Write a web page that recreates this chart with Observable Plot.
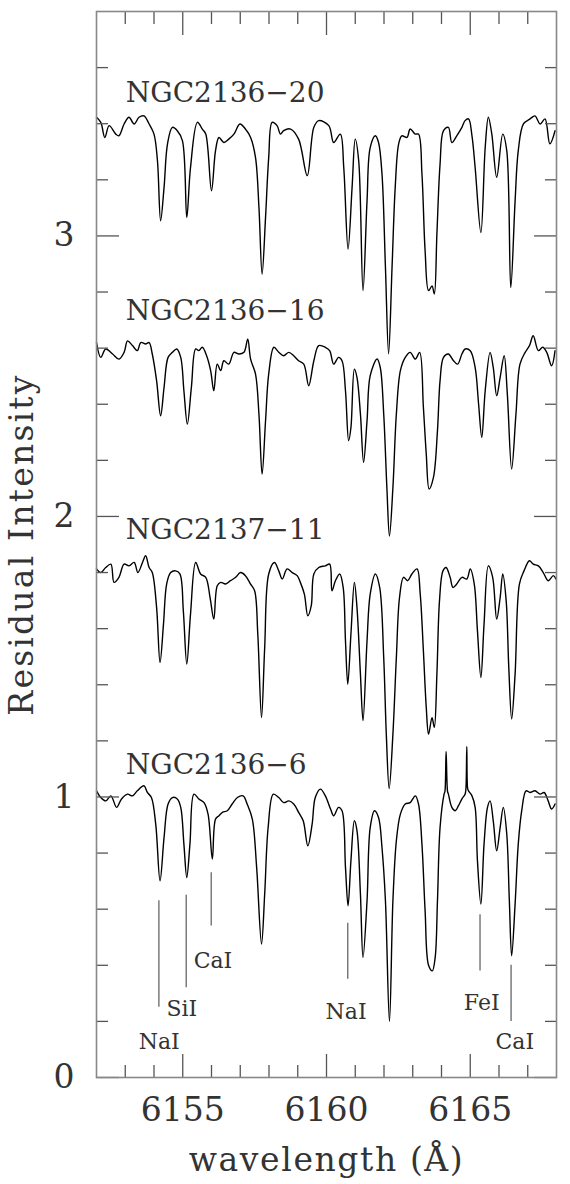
<!DOCTYPE html>
<html><head><meta charset="utf-8">
<script src="https://cdn.jsdelivr.net/npm/d3@7"></script>
<script src="https://cdn.jsdelivr.net/npm/@observablehq/plot@0.6"></script>
<style>
html,body{margin:0;padding:0;background:#fff;} svg{display:block;}
</style>
</head><body><div id="chart"></div>
<script>
// ---- data ----
const starNames = ["NGC2136−20", "NGC2136−16", "NGC2137−11", "NGC2136−6"];
const starLabelY = [3.476, 2.70, 1.92, 1.083];
const starLabelX = 6153.02;

const specN20 = [[6152.00,3.423],[6152.15,3.405],[6152.29,3.351],[6152.44,3.393],[6152.67,3.363],[6152.78,3.357],[6152.96,3.399],[6153.13,3.423],[6153.31,3.399],[6153.48,3.423],[6153.65,3.428],[6153.83,3.399],[6154.00,3.363],[6154.12,3.268],[6154.23,3.054],[6154.35,3.173],[6154.47,3.328],[6154.64,3.387],[6154.81,3.375],[6154.99,3.339],[6155.14,3.066],[6155.27,3.244],[6155.51,3.405],[6155.68,3.381],[6155.80,3.363],[6156.00,3.161],[6156.14,3.304],[6156.26,3.351],[6156.43,3.333],[6156.60,3.345],[6156.78,3.363],[6156.99,3.399],[6157.18,3.381],[6157.36,3.351],[6157.53,3.280],[6157.65,3.102],[6157.76,2.864],[6157.88,3.066],[6157.99,3.280],[6158.11,3.405],[6158.28,3.393],[6158.40,3.363],[6158.51,3.375],[6158.75,3.381],[6159.03,3.345],[6159.33,3.215],[6159.56,3.387],[6159.73,3.411],[6160.08,3.393],[6160.25,3.333],[6160.48,3.363],[6160.60,3.244],[6160.75,2.953],[6160.89,3.173],[6161.00,3.345],[6161.12,3.268],[6161.27,2.805],[6161.41,3.125],[6161.52,3.315],[6161.70,3.357],[6161.81,3.333],[6161.93,3.221],[6162.05,2.888],[6162.16,2.58],[6162.28,2.888],[6162.39,3.173],[6162.51,3.328],[6162.62,3.357],[6162.80,3.351],[6162.91,3.381],[6163.09,3.363],[6163.20,3.363],[6163.32,3.221],[6163.43,2.947],[6163.55,2.805],[6163.67,2.822],[6163.75,2.793],[6163.84,3.007],[6163.95,3.256],[6164.07,3.375],[6164.24,3.387],[6164.36,3.333],[6164.53,3.357],[6164.71,3.387],[6164.82,3.411],[6164.94,3.417],[6165.06,3.357],[6165.17,3.244],[6165.37,3.012],[6165.52,3.315],[6165.63,3.423],[6165.75,3.363],[6165.92,3.209],[6166.13,3.363],[6166.27,3.304],[6166.41,2.816],[6166.56,3.125],[6166.67,3.304],[6166.85,3.399],[6167.08,3.417],[6167.25,3.428],[6167.43,3.399],[6167.60,3.417],[6167.77,3.328],[6167.95,3.375]];

const specN16 = [[6152.00,2.620],[6152.15,2.567],[6152.32,2.597],[6152.56,2.579],[6152.78,2.561],[6152.96,2.585],[6153.08,2.626],[6153.25,2.609],[6153.42,2.591],[6153.54,2.620],[6153.71,2.615],[6153.83,2.620],[6153.94,2.579],[6154.09,2.484],[6154.23,2.359],[6154.35,2.460],[6154.49,2.567],[6154.64,2.585],[6154.79,2.597],[6154.93,2.567],[6155.04,2.448],[6155.16,2.329],[6155.30,2.460],[6155.45,2.597],[6155.56,2.591],[6155.68,2.603],[6155.83,2.573],[6155.97,2.520],[6156.08,2.448],[6156.20,2.543],[6156.32,2.520],[6156.43,2.555],[6156.60,2.543],[6156.78,2.585],[6156.95,2.579],[6157.13,2.585],[6157.26,2.632],[6157.36,2.561],[6157.53,2.508],[6157.65,2.365],[6157.76,2.151],[6157.88,2.341],[6157.99,2.508],[6158.17,2.603],[6158.34,2.585],[6158.51,2.573],[6158.69,2.585],[6158.86,2.573],[6159.03,2.555],[6159.21,2.543],[6159.38,2.466],[6159.56,2.555],[6159.73,2.609],[6159.96,2.603],[6160.11,2.591],[6160.25,2.543],[6160.42,2.567],[6160.54,2.555],[6160.66,2.448],[6160.77,2.270],[6160.85,2.317],[6160.97,2.525],[6161.06,2.496],[6161.18,2.365],[6161.29,2.193],[6161.41,2.341],[6161.52,2.502],[6161.76,2.561],[6161.87,2.531],[6161.99,2.365],[6162.10,2.103],[6162.19,1.93],[6162.31,2.103],[6162.43,2.365],[6162.57,2.520],[6162.74,2.567],[6162.91,2.585],[6163.09,2.561],[6163.24,2.585],[6163.37,2.389],[6163.47,2.222],[6163.57,2.098],[6163.72,2.139],[6163.86,2.306],[6163.95,2.484],[6164.07,2.567],[6164.24,2.579],[6164.42,2.555],[6164.56,2.543],[6164.71,2.579],[6164.82,2.597],[6165.00,2.591],[6165.17,2.531],[6165.29,2.401],[6165.40,2.282],[6165.52,2.448],[6165.69,2.585],[6165.80,2.531],[6165.92,2.430],[6166.04,2.496],[6166.18,2.573],[6166.29,2.436],[6166.44,2.169],[6166.59,2.365],[6166.73,2.543],[6166.91,2.585],[6167.06,2.609],[6167.19,2.644],[6167.37,2.591],[6167.52,2.603],[6167.66,2.585],[6167.83,2.537],[6167.95,2.591]];

const specN11 = [[6152.00,1.813],[6152.15,1.800],[6152.32,1.818],[6152.50,1.830],[6152.61,1.765],[6152.78,1.783],[6152.96,1.830],[6153.13,1.824],[6153.31,1.836],[6153.44,1.800],[6153.60,1.836],[6153.71,1.860],[6153.83,1.818],[6153.94,1.800],[6154.09,1.676],[6154.21,1.479],[6154.33,1.616],[6154.44,1.759],[6154.58,1.800],[6154.75,1.806],[6154.90,1.795],[6155.02,1.664],[6155.14,1.474],[6155.27,1.652],[6155.45,1.836],[6155.62,1.795],[6155.80,1.783],[6155.95,1.711],[6156.08,1.634],[6156.20,1.753],[6156.32,1.765],[6156.49,1.759],[6156.66,1.771],[6156.84,1.783],[6157.01,1.800],[6157.18,1.789],[6157.36,1.759],[6157.50,1.735],[6157.61,1.581],[6157.74,1.283],[6157.85,1.533],[6157.99,1.795],[6158.19,1.836],[6158.34,1.806],[6158.46,1.777],[6158.63,1.813],[6158.81,1.800],[6158.98,1.789],[6159.09,1.765],[6159.23,1.723],[6159.35,1.646],[6159.47,1.682],[6159.56,1.795],[6159.73,1.818],[6159.96,1.824],[6160.11,1.830],[6160.19,1.735],[6160.31,1.771],[6160.46,1.795],[6160.58,1.747],[6160.66,1.557],[6160.74,1.402],[6160.85,1.581],[6160.97,1.765],[6161.06,1.676],[6161.18,1.438],[6161.27,1.272],[6161.41,1.557],[6161.52,1.723],[6161.70,1.795],[6161.85,1.747],[6161.99,1.497],[6162.08,1.224],[6162.18,1.03],[6162.31,1.224],[6162.43,1.497],[6162.54,1.711],[6162.68,1.783],[6162.82,1.771],[6162.97,1.795],[6163.15,1.813],[6163.26,1.723],[6163.37,1.521],[6163.47,1.319],[6163.55,1.224],[6163.67,1.283],[6163.75,1.248],[6163.84,1.438],[6163.93,1.699],[6164.05,1.806],[6164.16,1.818],[6164.30,1.783],[6164.40,1.747],[6164.53,1.759],[6164.71,1.783],[6164.88,1.777],[6165.00,1.813],[6165.14,1.759],[6165.25,1.593],[6165.37,1.426],[6165.48,1.616],[6165.63,1.824],[6165.78,1.783],[6165.92,1.634],[6166.04,1.711],[6166.13,1.795],[6166.25,1.699],[6166.34,1.462],[6166.44,1.278],[6166.56,1.438],[6166.71,1.759],[6166.87,1.806],[6167.06,1.842],[6167.19,1.830],[6167.37,1.824],[6167.54,1.800],[6167.71,1.771],[6167.89,1.789],[6167.98,1.777]];

const specN6 = [[6152.00,1.022],[6152.15,0.998],[6152.32,0.986],[6152.50,1.004],[6152.70,0.963],[6152.87,0.993],[6153.08,1.010],[6153.25,1.004],[6153.42,1.022],[6153.65,1.040],[6153.77,1.016],[6153.91,0.998],[6154.06,0.903],[6154.21,0.701],[6154.35,0.856],[6154.49,0.975],[6154.64,0.998],[6154.81,0.993],[6154.93,0.963],[6155.04,0.832],[6155.14,0.713],[6155.25,0.832],[6155.39,1.010],[6155.56,0.993],[6155.74,0.980],[6155.88,0.939],[6156.03,0.779],[6156.14,0.921],[6156.26,0.933],[6156.38,0.945],[6156.55,0.951],[6156.72,0.975],[6156.90,0.998],[6157.10,1.004],[6157.24,0.975],[6157.42,0.921],[6157.57,0.749],[6157.74,0.476],[6157.85,0.654],[6157.97,0.891],[6158.15,1.010],[6158.34,0.998],[6158.51,0.980],[6158.69,0.986],[6158.86,0.975],[6159.03,0.945],[6159.19,0.915],[6159.35,0.826],[6159.50,0.903],[6159.61,0.998],[6159.79,1.028],[6159.96,1.004],[6160.14,0.957],[6160.25,0.933],[6160.42,0.963],[6160.54,0.951],[6160.66,0.749],[6160.75,0.612],[6160.85,0.773],[6160.97,0.915],[6161.06,0.880],[6161.18,0.654],[6161.27,0.428],[6161.41,0.630],[6161.52,0.891],[6161.67,0.951],[6161.81,0.927],[6161.93,0.820],[6162.05,0.630],[6162.19,0.20],[6162.31,0.630],[6162.43,0.844],[6162.57,0.939],[6162.74,0.975],[6162.91,0.980],[6163.09,1.004],[6163.20,0.975],[6163.32,0.832],[6163.43,0.594],[6163.55,0.40],[6163.68,0.38],[6163.78,0.428],[6163.86,0.630],[6163.95,0.891],[6164.09,1.010],[6164.12,1.02],[6164.16,1.162],[6164.21,1.02],[6164.24,1.010],[6164.36,0.963],[6164.48,0.951],[6164.59,0.969],[6164.71,0.993],[6164.82,1.010],[6164.85,1.03],[6164.88,1.180],[6164.91,1.03],[6164.94,1.022],[6165.06,1.004],[6165.17,0.963],[6165.25,0.773],[6165.37,0.618],[6165.48,0.832],[6165.60,0.963],[6165.69,0.986],[6165.80,0.915],[6165.92,0.808],[6166.04,0.891],[6166.15,0.963],[6166.27,0.868],[6166.36,0.630],[6166.44,0.434],[6166.56,0.618],[6166.67,0.832],[6166.79,0.951],[6166.94,1.022],[6167.08,1.016],[6167.25,1.022],[6167.43,1.010],[6167.57,1.016],[6167.71,0.986],[6167.83,0.957],[6167.95,0.975]];

// line identifications (bottom spectrum)
const lineIds = ["NaI", "SiI", "CaI", "NaI", "FeI", "CaI"];
const lineWave = [6154.17, 6155.12, 6155.99, 6160.74, 6165.34, 6166.42];
const markTop = [0.63, 0.65, 0.73, 0.55, 0.58, 0.40];
const markBottom = [0.25, 0.32, 0.54, 0.35, 0.38, 0.20];
const idLabelX = [6154.18, 6154.97, 6156.05, 6160.68, 6165.40, 6166.55];
const idLabelY = [0.10, 0.221, 0.389, 0.21, 0.239, 0.10];

// axis ticks
const xMajor = [6155, 6160, 6165];
const xMinor = [6153, 6154, 6156, 6157, 6158, 6159, 6161, 6162, 6163, 6164, 6166, 6167];
const yMajor = [0, 1, 2, 3];
const yMinor = [0.2, 0.4, 0.6, 0.8, 1.2, 1.4, 1.6, 1.8, 2.2, 2.4, 2.6, 2.8, 3.2, 3.4, 3.6];

const xTitle = "wavelength (Å)";
const yTitle = "Residual Intensity";

// ---- build ----
const spectra = [specN20, specN16, specN11, specN6];
const starLabels = starNames.map((name, i) => ({name, x: starLabelX, y: starLabelY[i]}));
const markers = lineIds.map((id, i) => ({id, w: lineWave[i], top: markTop[i], bottom: markBottom[i], lx: idLabelX[i], ly: idLabelY[i]}));

const tickColor = "#555";
const textColor = "#333";
const MAJ = 23, MIN = 12;
const tickAxes = [];
for (const [ticks, size] of [[xMajor, MAJ], [xMinor, MIN]]) {
  tickAxes.push(Plot.axisX(ticks, {anchor: "bottom", tickSize: size, dy: -size, fill: "none", stroke: tickColor, strokeWidth: 1.3, label: null}));
  tickAxes.push(Plot.axisX(ticks, {anchor: "top", tickSize: size, dy: size, fill: "none", stroke: tickColor, strokeWidth: 1.3, label: null}));
}
for (const [ticks, size] of [[yMajor, MAJ], [yMinor, MIN]]) {
  tickAxes.push(Plot.axisY(ticks, {anchor: "left", tickSize: size, dx: size, fill: "none", stroke: tickColor, strokeWidth: 1.3, label: null}));
  tickAxes.push(Plot.axisY(ticks, {anchor: "right", tickSize: size, dx: -size, fill: "none", stroke: tickColor, strokeWidth: 1.3, label: null}));
}

const chart = Plot.plot({
  width: 570,
  height: 1184,
  marginLeft: 96,
  marginRight: 14,
  marginTop: 11,
  marginBottom: 107,
  style: {fontFamily: "'DejaVu Serif', serif", background: "#fff", color: textColor},
  x: {domain: [6152, 6168]},
  y: {domain: [0, 3.8]},
  marks: [
    ...spectra.map(s => Plot.line(s, {x: d => d[0], y: d => d[1], curve: "catmull-rom", stroke: "#000", strokeWidth: 1.4, strokeLinejoin: "round"})),
    Plot.ruleX(markers, {x: "w", y1: "bottom", y2: "top", stroke: "#666", strokeWidth: 1.3}),
    Plot.text(markers, {x: "lx", y: "ly", text: "id", lineAnchor: "bottom", textAnchor: "middle", fontSize: 22, fill: textColor}),
    Plot.text(starLabels, {x: "x", y: "y", text: "name", lineAnchor: "bottom", textAnchor: "start", fontSize: 28, fill: textColor}),
    ...tickAxes,
    Plot.axisX(xMajor, {anchor: "bottom", tickSize: 0, tickPadding: 20, fontSize: 33, fill: textColor, label: null, tickFormat: d => String(d)}),
    Plot.axisY(yMajor, {anchor: "left", tickSize: 0, tickPadding: 22, fontSize: 33, fill: textColor, label: null, tickFormat: d => String(d)}),
    Plot.text([xTitle], {frameAnchor: "bottom", dy: 93, lineAnchor: "bottom", textAnchor: "middle", text: d => d, fontSize: 33, fill: textColor}),
    Plot.text([yTitle], {frameAnchor: "left", dx: -64, rotate: -90, lineAnchor: "bottom", textAnchor: "middle", text: d => d, fontSize: 33, fill: textColor}),
    Plot.frame({stroke: "#888", strokeWidth: 1.6})
  ]
});
document.getElementById("chart").appendChild(chart);
// widen the axis titles a little, like the reference's wide serif face
d3.select(chart).selectAll("text").filter(function () { return this.textContent === xTitle; }).style("letter-spacing", "1.6px");
d3.select(chart).selectAll("text").filter(function () { return this.textContent === yTitle; }).style("letter-spacing", "2.2px");
</script>
</body></html>
